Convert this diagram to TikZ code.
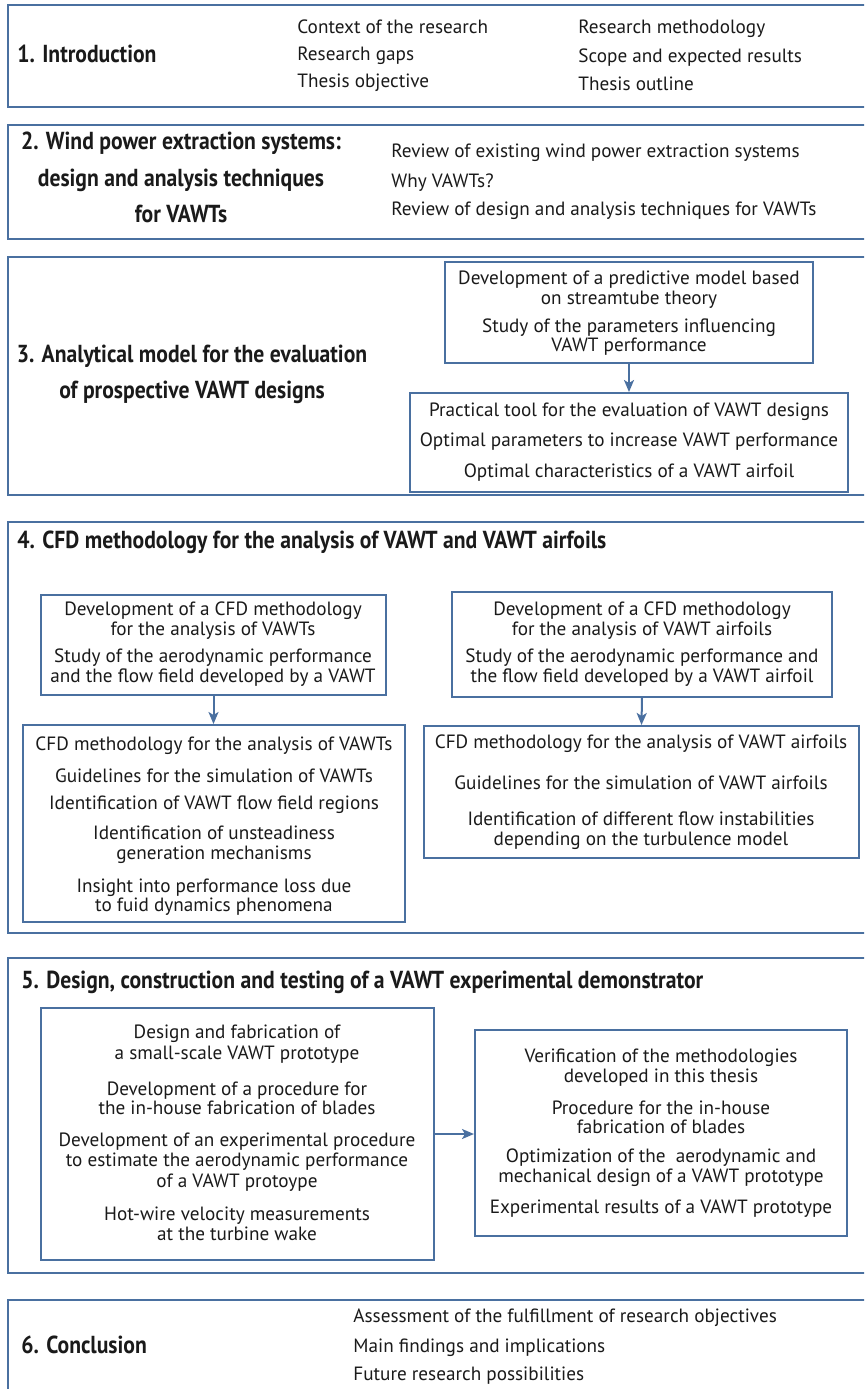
\documentclass[tikz,border=0pt]{standalone}
\usepackage{fontspec}
\setmainfont{PT Sans}
\newfontfamily\titlefont{PT Sans}[FakeStretch=0.88]
\usetikzlibrary{fit,arrows.meta}
\definecolor{bordblue}{RGB}{74,112,160}
\definecolor{txtcol}{RGB}{26,26,26}
\tikzset{
  obox/.style={draw=bordblue, line width=1.3pt, inner sep=0pt},
  ibox/.style={draw=bordblue, line width=1pt, inner sep=0pt},
  body/.style={inner sep=0pt, text=txtcol, font=\fontsize{9.6}{11}\selectfont, anchor=mid},
  bodyl/.style={body, anchor=mid west},
  ttl/.style={inner sep=0pt, text=txtcol, font=\titlefont\bfseries\fontsize{12.3}{14}\selectfont, anchor=mid},
  ttll/.style={ttl, anchor=mid west},
  arr/.style={draw=bordblue, line width=1pt, -{Stealth[length=6pt,width=5pt,inset=1.5pt]}}
}
\begin{document}
\begin{tikzpicture}[x=0.5pt,y=-0.5pt]
\useasboundingbox (0,0) rectangle (864,1389);
\clip (0,0) rectangle (864,1389);
\fill[white] (0,0) rectangle (864,1389);

% ---------- Section 1
\node[obox, fit={(8,5) (875,107)}] (s1) {};
\node[ttll] (s1t) at (17,57) {1. Introduction};
\node[bodyl] (s1a) at (297,28) {Context of the research};
\node[bodyl] (s1b) at (297,55) {Research gaps};
\node[bodyl] (s1c) at (297,82) {Thesis objective};
\node[bodyl] (s1d) at (578,28) {Research methodology};
\node[bodyl] (s1e) at (578,57) {Scope and expected results};
\node[bodyl] (s1f) at (578,85) {Thesis outline};

% ---------- Section 2
\node[obox, fit={(8,125) (875,239)}] (s2) {};
\node[ttl] (s2t1) at (181,144) {2. Wind power extraction systems:};
\node[ttl] (s2t2) at (181,181) {design and analysis techniques};
\node[ttl] (s2t3) at (181,217) {for VAWTs};
\node[bodyl] (s2a) at (391,152) {Review of existing wind power extraction systems};
\node[bodyl] (s2b) at (391,182) {Why VAWTs?};
\node[bodyl] (s2c) at (391,210) {Review of design and analysis techniques for VAWTs};

% ---------- Section 3
\node[obox, fit={(8,257) (875,495)}] (s3) {};
\node[ttl] (s3t1) at (192,357) {3. Analytical model for the evaluation};
\node[ttl] (s3t2) at (192,393) {of prospective VAWT designs};
\node[ibox, fit={(445,262) (813,363)}] (a3) {};
\node[body] (a3l1) at (629,279) {Development of a predictive model based};
\node[body] (a3l2) at (629,299) {on streamtube theory};
\node[body] (a3l3) at (629,327) {Study of the parameters influencing};
\node[body] (a3l4) at (629,346) {VAWT performance};
\node[ibox, fit={(410,393) (848,492)}] (b3) {};
\node[body] (b3l1) at (629,411) {Practical tool for the evaluation of VAWT designs};
\node[body] (b3l2) at (629,441) {Optimal parameters to increase VAWT performance};
\node[body] (b3l3) at (629,472) {Optimal characteristics of a VAWT airfoil};
\draw[arr] (a3.south) -- (b3.north);

% ---------- Section 4
\node[obox, fit={(8,522) (875,933)}] (s4) {};
\node[ttll] (s4t) at (17,543) {4. CFD methodology for the analysis of VAWT and VAWT airfoils};
\node[ibox, fit={(41,595) (386,695)}] (a4) {};
\node[body] (a4l1) at (213,610) {Development of a CFD methodology};
\node[body] (a4l2) at (213,630) {for the analysis of VAWTs};
\node[body] (a4l3) at (213,657) {Study of the aerodynamic performance};
\node[body] (a4l4) at (213,677) {and the flow field developed by a VAWT};
\node[ibox, fit={(23,725) (405,922)}] (b4) {};
\node[body] (b4l1) at (214,745) {CFD methodology for the analysis of VAWTs};
\node[body] (b4l2) at (214,777) {Guidelines for the simulation of VAWTs};
\node[body] (b4l3) at (214,804) {Identification of VAWT flow field regions};
\node[body] (b4l4) at (214,834) {Identification of unsteadiness};
\node[body] (b4l5) at (214,854) {generation mechanisms};
\node[body] (b4l6) at (214,887) {Insight into performance loss due};
\node[body] (b4l7) at (214,906) {to fuid dynamics phenomena};
\draw[arr] (a4.south) -- (a4.south |- b4.north);
\node[ibox, fit={(452,592) (832,697)}] (c4) {};
\node[body] (c4l1) at (642,610) {Development of a CFD methodology};
\node[body] (c4l2) at (642,630) {for the analysis of VAWT airfoils};
\node[body] (c4l3) at (642,657) {Study of the aerodynamic performance and};
\node[body] (c4l4) at (642,677) {the flow field developed by a VAWT airfoil};
\node[ibox, fit={(424,726) (859,858)}] (d4) {};
\node[body] (d4l1) at (641,743) {CFD methodology for the analysis of VAWT airfoils};
\node[body] (d4l2) at (641,784) {Guidelines for the simulation of VAWT airfoils};
\node[body] (d4l3) at (641,820) {Identification of different flow instabilities};
\node[body] (d4l4) at (641,840) {depending on the turbulence model};
\draw[arr] (c4.south) -- (d4.north);

% ---------- Section 5
\node[obox, fit={(8,958) (875,1273)}] (s5) {};
\node[ttll] (s5t) at (21,983) {5. Design, construction and testing of a VAWT experimental demonstrator};
\node[ibox, fit={(41,1008) (434,1260)}] (a5) {};
\node[body] (a5l1) at (237,1033) {Design and fabrication of};
\node[body] (a5l2) at (237,1054) {a small-scale VAWT prototype};
\node[body] (a5l3) at (237,1090) {Development of a procedure for};
\node[body] (a5l4) at (237,1109) {the in-house fabrication of blades};
\node[body] (a5l5) at (237,1141) {Development of an experimental procedure};
\node[body] (a5l6) at (237,1161) {to estimate the aerodynamic performance};
\node[body] (a5l7) at (237,1182) {of a VAWT protoype};
\node[body] (a5l8) at (237,1215) {Hot-wire velocity measurements};
\node[body] (a5l9) at (237,1235) {at the turbine wake};
\node[ibox, fit={(475,1030) (847,1236)}] (b5) {};
\node[body] (b5l1) at (661,1057) {Verification of the methodologies};
\node[body] (b5l2) at (661,1077) {developed in this thesis};
\node[body] (b5l3) at (661,1109) {Procedure for the in-house};
\node[body] (b5l4) at (661,1128) {fabrication of blades};
\node[body] (b5l5) at (661,1157) {Optimization of the\ \ aerodynamic and};
\node[body] (b5l6) at (661,1177) {mechanical design of a VAWT prototype};
\node[body] (b5l7) at (661,1208) {Experimental results of a VAWT prototype};
\draw[arr] (a5.east) -- (a5.east -| b5.west);

% ---------- Section 6
\node[obox, fit={(8,1300) (875,1400)}] (s6) {};
\node[ttll] (s6t) at (21,1348) {6. Conclusion};
\node[bodyl] (s6a) at (353,1317) {Assessment of the fulfillment of research objectives};
\node[bodyl] (s6b) at (353,1347) {Main findings and implications};
\node[bodyl] (s6c) at (353,1375) {Future research possibilities};
\end{tikzpicture}
\end{document}
